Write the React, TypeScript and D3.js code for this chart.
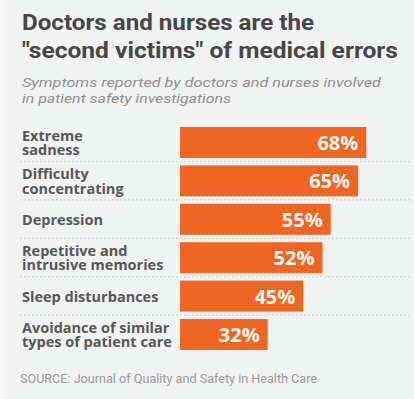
import React from "react";
import * as d3 from "d3";

const titleLines = ["Doctors and nurses are the", "\"second victims\" of medical errors"];
const subtitleLines = [
  "Symptoms reported by doctors and nurses involved",
  "in patient safety investigations",
];
const categories = [
  ["Extreme", "sadness"],
  ["Difficulty", "concentrating"],
  ["Depression"],
  ["Repetitive and", "intrusive memories"],
  ["Sleep disturbances"],
  ["Avoidance of similar", "types of patient care"],
];
const values = [68, 65, 55, 52, 45, 32];
const source = "SOURCE: Journal of Quality and Safety in Health Care";

const W = 414;
const H = 399;
const ORANGE = "#ee6524";

export default function App() {
  const keys = categories.map((c) => c.join(" "));
  const y = d3.scaleBand<string>().domain(keys).range([119.6, 357.4]).paddingInner(0.193).paddingOuter(0.193);
  const x = d3.scaleLinear().domain([0, 100]).range([180, 454]);
  const bw = y.bandwidth();
  const font = "Roboto, 'Open Sans', sans-serif";
  const labelFont = "'Open Sans', Roboto, sans-serif";
  const lh = 14.5;

  return (
    <svg
      width={W}
      height={H}
      style={{ position: "absolute", left: 0, top: 0, display: "block" }}
    >
      <rect x={0} y={0} width={W} height={H} fill="#f1f2f2" />
      <rect x={0} y={0} width={4} height={H} fill="#f7f7f7" />
      <g fontFamily={font} fill="#464646" fontWeight={700} fontSize={22}>
        {titleLines.map((t, i) => (
          <text
            key={i}
            x={22}
            y={30 + i * 28}
            textLength={i === 0 ? 292 : 376}
            lengthAdjust="spacingAndGlyphs"
          >
            {t}
          </text>
        ))}
      </g>
      <g fontFamily={font} fill="#8f8f8f" fontStyle="italic" fontSize={13.5}>
        {subtitleLines.map((t, i) => (
          <text
            key={i}
            x={22}
            y={87 + i * 16}
            textLength={i === 0 ? 359 : 209}
            lengthAdjust="spacingAndGlyphs"
          >
            {t}
          </text>
        ))}
      </g>
      {keys.slice(0, -1).map((k) => (
        <line
          key={"sep" + k}
          x1={20}
          x2={412}
          y1={(y(k) as number) + bw + 3.5}
          y2={(y(k) as number) + bw + 3.5}
          stroke="#c9cbcb"
          strokeWidth={1.2}
          strokeDasharray="1.5,2.5"
        />
      ))}
      {keys.map((k, i) => {
        const top = y(k) as number;
        const cy = top + bw / 2;
        const lines = categories[i];
        const y0 = cy + 5.5 - ((lines.length - 1) / 2) * lh;
        return (
          <g key={k}>
            <rect x={x(0)} y={top} width={x(values[i]) - x(0)} height={bw} fill={ORANGE} />
            <text
              x={x(values[i]) - 8}
              y={cy + 7.5}
              textAnchor="end"
              fill="#fff6f0"
              fontFamily={labelFont}
              fontWeight={700}
              fontSize={20}
            >
              {values[i]}%
            </text>
            <text
              x={22}
              y={y0}
              fill="#575757"
              fontFamily={labelFont}
              fontWeight={700}
              fontSize={14.5}
            >
              {lines.map((l, j) => (
                <tspan key={j} x={22} y={y0 + j * lh}>
                  {l}
                </tspan>
              ))}
            </text>
          </g>
        );
      })}
      <text
        x={20}
        y={383}
        fill="#9a9a9a"
        fontFamily={font}
        fontSize={12}
        textLength={297}
        lengthAdjust="spacingAndGlyphs"
      >
        {source}
      </text>
    </svg>
  );
}
